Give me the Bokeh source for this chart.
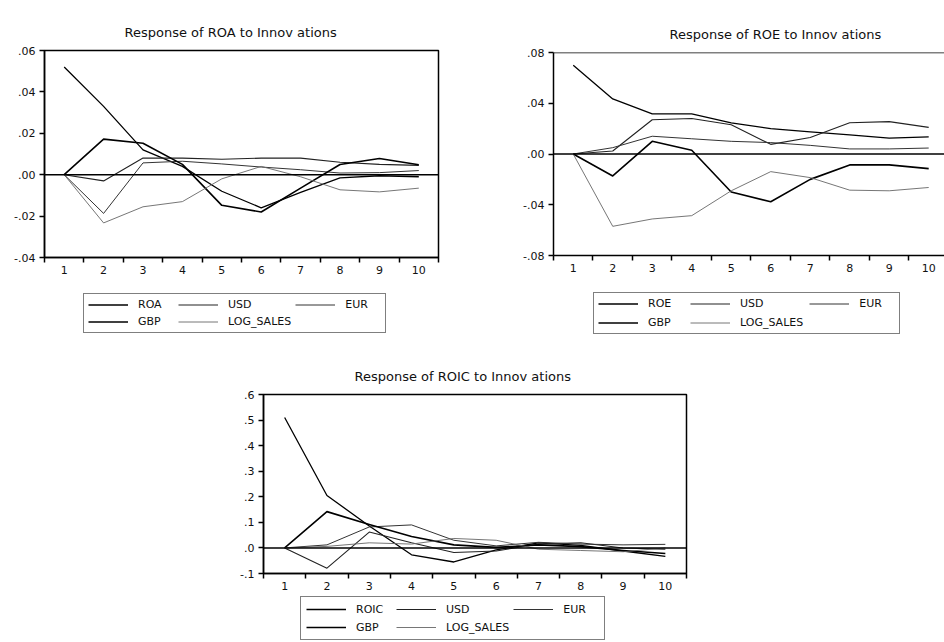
from bokeh.plotting import figure
from bokeh.models import (Range1d, FixedTicker, Span, Legend, LegendItem, Title)
from bokeh.layouts import column, row
from bokeh.embed import file_html
from bokeh.resources import INLINE

periods = [1, 2, 3, 4, 5, 6, 7, 8, 9, 10]
series_names = ["USD", "EUR", "GBP", "LOG_SALES"]

# Response of ROA
roa_roa = [0.052, 0.033, 0.012, 0.004, -0.008, -0.016, -0.0085, -0.0015, -0.0005, -0.001]
roa_usd = [0.0, -0.003, 0.0081, 0.008, 0.0075, 0.008, 0.008, 0.006, 0.005, 0.0045]
roa_eur = [0.0, -0.0187, 0.0057, 0.0065, 0.0052, 0.0037, 0.0024, 0.0008, 0.001, 0.002]
roa_gbp = [0.0, 0.0172, 0.0152, 0.005, -0.0148, -0.018, -0.0065, 0.0049, 0.0078, 0.0048]
roa_log = [0.0, -0.0233, -0.0155, -0.013, -0.002, 0.004, -0.001, -0.0073, -0.0083, -0.0065]
roa_ticks = [-0.04, -0.02, 0.0, 0.02, 0.04, 0.06]
roa_labels = ["-.04", "-.02", ".00", ".02", ".04", ".06"]

# Response of ROE
roe_roe = [0.070, 0.0434, 0.0316, 0.0316, 0.0246, 0.020, 0.0175, 0.015, 0.0125, 0.0135]
roe_usd = [0.0, 0.0024, 0.027, 0.028, 0.023, 0.0076, 0.013, 0.0246, 0.0255, 0.021]
roe_eur = [0.0, 0.005, 0.014, 0.012, 0.010, 0.009, 0.0068, 0.004, 0.004, 0.0047]
roe_gbp = [0.0, -0.0173, 0.010, 0.0029, -0.030, -0.0376, -0.020, -0.0086, -0.0086, -0.0115]
roe_log = [0.0, -0.057, -0.0512, -0.0486, -0.029, -0.0139, -0.0186, -0.0285, -0.029, -0.0264]
roe_ticks = [-0.08, -0.04, 0.0, 0.04, 0.08]
roe_labels = ["-.08", "-.04", ".00", ".04", ".08"]

# Response of ROIC
roic_roic = [0.51, 0.205, 0.086, -0.027, -0.055, -0.008, 0.02, 0.01, -0.012, -0.033]
roic_usd = [0.0, -0.079, 0.062, 0.02, -0.018, -0.012, 0.015, 0.02, 0.0, -0.005]
roic_eur = [0.0, 0.012, 0.082, 0.09, 0.03, 0.008, 0.022, 0.015, 0.012, 0.014]
roic_gbp = [0.0, 0.142, 0.092, 0.045, 0.012, 0.002, 0.012, 0.005, -0.01, -0.022]
roic_log = [0.0, 0.006, 0.02, 0.015, 0.037, 0.03, -0.005, -0.01, -0.015, 0.0]
roic_ticks = [-0.1, 0.0, 0.1, 0.2, 0.3, 0.4, 0.5, 0.6]
roic_labels = ["-.1", ".0", ".1", ".2", ".3", ".4", ".5", ".6"]

FONT = "DejaVu Sans"
styles = [("black", 1.3), ("#222222", 1.1), ("#333333", 1.0), ("black", 1.6), ("#666666", 0.9)]


def make_chart(title, data, ticks, labels, yr, xr, width, height,
               mb_left, mb_right, mb_top, mb_bottom, title_offset, box=True):
    p = figure(width=width, height=height, output_backend="svg", toolbar_location=None,
               x_range=Range1d(*xr), y_range=Range1d(*yr),
               min_border_left=mb_left, min_border_right=mb_right,
               min_border_top=mb_top, min_border_bottom=mb_bottom)
    p.grid.visible = False
    p.background_fill_color = "white"
    p.border_fill_color = "white"
    if box:
        p.outline_line_color = "black"
        p.outline_line_width = 1.5
    else:
        p.outline_line_color = None
        p.add_layout(Span(location=yr[1], dimension="width", line_color="black", line_width=1.5))

    t = Title(text=title, align="left", offset=title_offset, text_font=FONT,
              text_font_size="13px", text_font_style="normal", text_color="#111111",
              standoff=22)
    p.add_layout(t, "above")

    xa = p.xaxis[0]
    xa.ticker = FixedTicker(ticks=periods, minor_ticks=[k - 0.5 for k in periods] + [10.5])
    xa.major_tick_line_color = None
    xa.major_tick_out = 5
    xa.major_tick_in = 0
    xa.minor_tick_out = 5
    xa.minor_tick_in = 0
    xa.minor_tick_line_color = "black"
    xa.minor_tick_line_width = 1.5
    xa.axis_line_width = 1.5
    xa.major_label_standoff = 3
    xa.major_label_text_font = FONT
    xa.major_label_text_font_size = "11px"
    xa.major_label_text_color = "#111111"

    ya = p.yaxis[0]
    ya.ticker = FixedTicker(ticks=ticks, minor_ticks=[])
    ya.major_label_overrides = {tk: lb for tk, lb in zip(ticks, labels)}
    ya.major_tick_out = 5
    ya.major_tick_in = 0
    ya.major_tick_line_width = 1.5
    ya.axis_line_width = 1.5
    ya.major_label_standoff = 4
    ya.major_label_text_font = FONT
    ya.major_label_text_font_size = "11px"
    ya.major_label_text_color = "#111111"

    p.add_layout(Span(location=0, dimension="width", line_color="black", line_width=1.6))

    for vals, (col, lw) in zip(data, styles):
        p.line(periods, vals, line_color=col, line_width=lw, line_join="round")
    return p


def make_legend(own_name, data, width, height, loc, lg_geom):
    # separate strip holding the EViews-style legend box; series drawn off-view
    q = figure(width=width, height=height, output_backend="svg", toolbar_location=None,
               x_range=Range1d(0, 1), y_range=Range1d(5, 6),
               x_axis_location=None, y_axis_location=None,
               min_border_left=0, min_border_right=0, min_border_top=0, min_border_bottom=0)
    q.grid.visible = False
    q.outline_line_color = None
    q.background_fill_color = "white"
    q.border_fill_color = "white"
    names = [own_name] + series_names
    items = []
    for n, vals, (col, lw) in zip(names, data, styles):
        r = q.line(periods, vals, line_color=col, line_width=lw)
        items.append(LegendItem(label=n, renderers=[r]))
    lh, sp, pad = lg_geom
    lg = Legend(items=items, location=loc, orientation="horizontal", ncols=3,
                margin=0, padding=pad, spacing=sp, glyph_width=40, glyph_height=lh,
                label_height=lh, label_width=36, label_standoff=10,
                label_text_font=FONT, label_text_font_size="11px",
                label_text_color="#111111",
                border_line_color="black", border_line_width=1.5,
                background_fill_color="white", background_fill_alpha=1.0)
    q.add_layout(lg, "center")
    return q


roa_data = [roa_roa, roa_usd, roa_eur, roa_gbp, roa_log]
roe_data = [roe_roe, roe_usd, roe_eur, roe_gbp, roe_log]
roic_data = [roic_roic, roic_usd, roic_eur, roic_gbp, roic_log]

p1 = make_chart("Response of ROA to Innov ations", roa_data, roa_ticks, roa_labels,
                (-0.04, 0.06), (0.5, 10.5), 478, 285, 44, 40, 50, 28, 80)
l1 = make_legend("ROA", roa_data, 478, 55, (39, 7), (11, 4, 4))
p2 = make_chart("Response of ROE to Innov ations", roe_data, roe_ticks, roe_labels,
                (-0.08, 0.08), (0.5, 10.4), 466, 285, 75, 0, 52, 30, 116, box=False)
l2 = make_legend("ROE", roe_data, 466, 55, (40, 6), (13, 6, 4))
p3 = make_chart("Response of ROIC to Innov ations", roic_data, roic_ticks, roic_labels,
                (-0.1, 0.6), (0.5, 10.5), 720, 256, 263, 34, 54, 23, 91)
l3 = make_legend("ROIC", roic_data, 720, 46, (37, 2), (14, 4, 5))

layout = column(row(column(p1, l1), column(p2, l2)), column(p3, l3))
open("out.html", "w").write(file_html(layout, INLINE))
